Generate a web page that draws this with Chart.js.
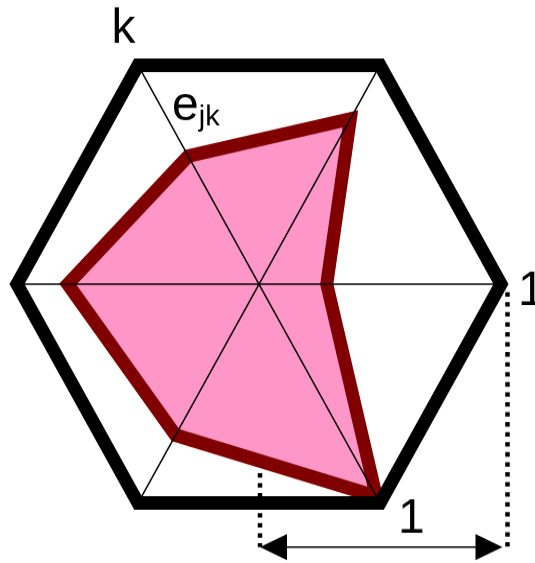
<!DOCTYPE html>
<html>
<head>
<meta charset="utf-8">
<script src="https://cdn.jsdelivr.net/npm/chart.js@4/dist/chart.umd.min.js"></script>
<style>
    html, body { margin: 0; padding: 0; background: #fff; }
    #wrap { position: relative; width: 535px; height: 563px; overflow: hidden; }
</style>
</head>
<body>
<div id="wrap">
    <canvas id="radarCanvas" width="535" height="539" style="width:535px;height:563px"></canvas>
</div>
<script>
// axes run clockwise starting at the right-hand corner
const axisLabels = ['1', '', '', '', 'k', ''];
const ejkValues = [0.28, 0.97, 0.69, 0.79, 0.585, 0.755];
const scaleTicks = [0, 1];

// the picture is a bit taller than a regular hexagon, so the canvas is stretched
const stretchY = 563 / 539;

function strokeLine(ctx, x1, y1, x2, y2) {
    ctx.beginPath();
    ctx.moveTo(x1, y1);
    ctx.lineTo(x2, y2);
    ctx.stroke();
}

function arrowHead(ctx, tipX, y, dir) {
    ctx.beginPath();
    ctx.moveTo(tipX, y);
    ctx.lineTo(tipX + dir * 27, y - 13);
    ctx.lineTo(tipX + dir * 27, y + 13);
    ctx.closePath();
    ctx.fill();
}

const overlayPlugin = {
    id: 'overlay',
    afterDraw(chart) {
        const ctx = chart.ctx;
        const r = chart.scales.r;
        const toPage = p => ({ x: p.x, y: p.y * stretchY });
        const center = toPage({ x: r.xCenter, y: r.yCenter });

        ctx.save();
        // draw in page coordinates (undo the vertical stretch)
        ctx.scale(1, 1 / stretchY);
        ctx.strokeStyle = '#000';
        ctx.fillStyle = '#000';

        // dotted guides for the unit length
        const rightPt = toPage(r.getPointPositionForValue(0, 1));
        const guideX = rightPt.x + 6.5;
        const arrowY = center.y + 263;
        ctx.lineWidth = 4.5;
        ctx.setLineDash([4.5, 5.5]);
        strokeLine(ctx, center.x + 1, center.y + 189, center.x + 1, arrowY);
        strokeLine(ctx, guideX, rightPt.y + 8, guideX, arrowY);
        ctx.setLineDash([]);

        // double arrow
        ctx.lineWidth = 1.5;
        strokeLine(ctx, center.x + 20, arrowY, guideX - 25, arrowY);
        arrowHead(ctx, center.x + 1, arrowY, 1);
        arrowHead(ctx, guideX - 5, arrowY, -1);

        // axis labels
        ctx.font = '48px "Liberation Sans", Arial, sans-serif';
        ctx.textAlign = 'left';
        ctx.textBaseline = 'alphabetic';
        axisLabels.forEach((label, i) => {
            if (!label) return;
            const p = toPage(r.getPointPositionForValue(i, 1));
            if (i === 0) {
                ctx.fillText(label, p.x + 17, p.y + 21);
            } else {
                ctx.fillText(label, p.x - 26.5, p.y - 22);
            }
        });

        // length label under the arrow
        ctx.fillText('1', center.x + 139, center.y + 249);

        // e_jk next to the k axis
        const kPt = toPage(r.getPointPositionForValue(4, 1));
        ctx.fillText('e', kPt.x + 34, kPt.y + 54.5);
        const eWidth = ctx.measureText('e').width;
        ctx.font = '29px "Liberation Sans", Arial, sans-serif';
        ctx.fillText('jk', kPt.x + 34 + eWidth, kPt.y + 60);

        ctx.restore();
    }
};

const ctx = document.getElementById('radarCanvas').getContext('2d');

new Chart(ctx, {
    type: 'radar',
    data: {
        labels: axisLabels,
        datasets: [{
            label: 'e',
            data: ejkValues,
            fill: true,
            backgroundColor: 'rgb(255, 150, 200)',
            borderColor: '#800000',
            borderWidth: 13,
            borderJoinStyle: 'miter',
            pointRadius: 0,
            pointHoverRadius: 0,
            tension: 0
        }]
    },
    options: {
        responsive: false,
        animation: false,
        events: [],
        layout: {
            padding: { left: 17, right: 34, top: 30, bottom: 25 }
        },
        plugins: {
            legend: { display: false },
            tooltip: { enabled: false }
        },
        scales: {
            r: {
                min: 0,
                max: 1,
                startAngle: 90,
                afterBuildTicks: scale => {
                    scale.ticks = scaleTicks.map(v => ({ value: v }));
                },
                ticks: { display: false, z: 1 },
                pointLabels: { display: false },
                grid: {
                    circular: false,
                    color: '#000',
                    lineWidth: 13,
                    z: 1
                },
                angleLines: {
                    display: true,
                    color: '#000',
                    lineWidth: 1.5
                }
            }
        }
    },
    plugins: [overlayPlugin]
});
</script>
</body>
</html>
